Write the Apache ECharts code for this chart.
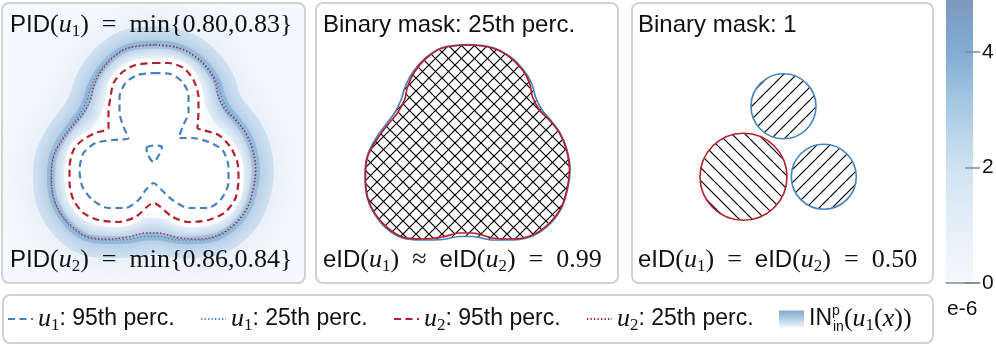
<!DOCTYPE html>
<html><head><meta charset="utf-8">
<script src="https://cdn.jsdelivr.net/npm/echarts@6/dist/echarts.min.js"></script>
<style>html,body{margin:0;padding:0;background:#fff}#c{width:996px;height:347px}</style>
</head><body><div id="c"></div>
<script>
const SANS = '"Liberation Sans", Arial, sans-serif';
const SERIF = '"Liberation Serif", "Times New Roman", serif';
const BLUE = '#4881bf', RED = '#b5202e', INK = '#111';

// ---- contour data (normalized shape coordinates) ----
const u2_p25 = [[0.02,0.98],[0.25,0.95],[0.42,0.86],[0.55,0.73],[0.62,0.60],[0.65,0.46],[0.72,0.33],[0.82,0.23],[0.92,0.10],[0.99,-0.07],[1.02,-0.27],[1.00,-0.44],[0.94,-0.64],[0.82,-0.80],[0.65,-0.92],[0.45,-0.96],[0.25,-0.95],[0.05,-0.90],[-0.08,-0.90],[-0.25,-0.94],[-0.45,-0.96],[-0.65,-0.94],[-0.81,-0.84],[-0.93,-0.70],[-1.00,-0.54],[-1.02,-0.34],[-1.00,-0.14],[-0.91,0.03],[-0.80,0.18],[-0.70,0.30],[-0.63,0.43],[-0.60,0.56],[-0.53,0.71],[-0.41,0.85],[-0.25,0.95]];
const u1_p25 = [[0.02,0.985],[0.25,0.955],[0.43,0.86],[0.56,0.73],[0.64,0.60],[0.68,0.46],[0.745,0.33],[0.83,0.23],[0.925,0.10],[0.995,-0.07],[1.025,-0.27],[1.005,-0.44],[0.945,-0.64],[0.825,-0.81],[0.65,-0.93],[0.45,-0.97],[0.25,-0.97],[0.05,-0.935],[-0.08,-0.935],[-0.25,-0.965],[-0.45,-0.97],[-0.65,-0.95],[-0.815,-0.85],[-0.935,-0.70],[-1.005,-0.54],[-1.025,-0.34],[-1.005,-0.14],[-0.925,0.03],[-0.82,0.18],[-0.73,0.30],[-0.665,0.43],[-0.625,0.56],[-0.545,0.71],[-0.415,0.855],[-0.25,0.955]];
const u2_p95 = [[0.00,0.80],[0.15,0.80],[0.30,0.75],[0.40,0.63],[0.45,0.46],[0.45,0.31],[0.44,0.15],[0.49,0.13],[0.65,0.08],[0.77,-0.04],[0.84,-0.20],[0.85,-0.37],[0.82,-0.55],[0.72,-0.69],[0.55,-0.77],[0.35,-0.79],[0.19,-0.74],[0.00,-0.60],[-0.18,-0.74],[-0.35,-0.79],[-0.55,-0.77],[-0.70,-0.70],[-0.80,-0.57],[-0.84,-0.40],[-0.84,-0.24],[-0.80,-0.07],[-0.71,0.03],[-0.58,0.10],[-0.45,0.15],[-0.45,0.31],[-0.43,0.46],[-0.40,0.60],[-0.31,0.71],[-0.18,0.78]];
const u1_p95 = [[0.00,0.70],[0.17,0.69],[0.29,0.61],[0.35,0.48],[0.35,0.31],[0.29,0.16],[0.25,0.05],[0.39,0.05],[0.55,0.01],[0.69,-0.07],[0.75,-0.24],[0.75,-0.40],[0.67,-0.57],[0.54,-0.65],[0.35,-0.65],[0.19,-0.57],[0.07,-0.46],[0.00,-0.40],[-0.07,-0.46],[-0.15,-0.57],[-0.28,-0.65],[-0.45,-0.65],[-0.61,-0.57],[-0.71,-0.44],[-0.74,-0.27],[-0.70,-0.10],[-0.58,0.00],[-0.41,0.03],[-0.25,0.05],[-0.30,0.16],[-0.34,0.31],[-0.34,0.46],[-0.28,0.60],[-0.16,0.68]];
const u1_p95_inner = [[-0.07,-0.04],[0.00,-0.025],[0.085,-0.04],[0.06,-0.11],[0.00,-0.19],[-0.06,-0.11]];

// binary masks at level 1: circles [cx, cy, r]
const u1_mask1 = [[0.01,0.367,0.325],[0.413,-0.337,0.325]];
const u2_mask1 = [[-0.39,-0.337,0.435]];

// scores
const pidU1 = [0.80, 0.83];
const pidU2 = [0.86, 0.84];
const eid25 = 0.99;
const eid1 = 0.50;

// colorbar
const cbarRange = [0, 4.9];
const cbarTicks = [0, 2, 4];
const cbarUnit = 'e-6';

// legend
const legendNames = ['u1 95', 'u1 25', 'u2 95', 'u2 25', 'IN'];
const legendLabels = {
  'u1 95': '{i|u}{b|1}: 95th perc.',
  'u1 25': '{i|u}{b|1}: 25th perc.',
  'u2 95': '{i|u}{b|2}: 95th perc.',
  'u2 25': '{i|u}{b|2}: 25th perc.',
  'IN': 'IN{sp|p}{sb|in}{m|(}{i|u}{b|1}{m|(}{i|x}{m|))}'
};

const CMAP = [
  {offset:0, color:'#7d98ba'}, {offset:0.1, color:'#7ea4cc'}, {offset:0.2, color:'#86aed4'},
  {offset:0.35, color:'#a2c6e2'}, {offset:0.5, color:'#bfd8ec'}, {offset:0.62, color:'#d4e4f2'},
  {offset:0.8, color:'#e6eff8'}, {offset:1, color:'#f5f9fd'}
];

const f2 = v => v.toFixed(2);
const EQ = '\u2002=\u2002', APPROX = '\u2002\u2248\u2002';
const T = {
  pidTop: `{s|PID}({i|u}{b|1})${EQ}min{${f2(pidU1[0])},${f2(pidU1[1])}}`,
  pidBot: `{s|PID}({i|u}{b|2})${EQ}min{${f2(pidU2[0])},${f2(pidU2[1])}}`,
  mask25: '{s|Binary mask: 25th perc.}',
  eid25: `{s|eID}({i|u}{b|1})${APPROX}{s|eID}({i|u}{b|2})${EQ}${f2(eid25)}`,
  mask1: '{s|Binary mask: 1}',
  eid1: `{s|eID}({i|u}{b|1})${EQ}{s|eID}({i|u}{b|2})${EQ}${f2(eid1)}`
};

function hatch(dir){
  const s = 13, c = document.createElement('canvas');
  c.width = s; c.height = s;
  const g = c.getContext('2d');
  g.strokeStyle = '#000'; g.lineWidth = 1.2; g.beginPath();
  if (dir === '/') {
    g.moveTo(-1, s+1); g.lineTo(s+1, -1);
    g.moveTo(-2, 2); g.lineTo(2, -2);
    g.moveTo(s-2, s+2); g.lineTo(s+2, s-2);
  } else {
    g.moveTo(-1, -1); g.lineTo(s+1, s+1);
    g.moveTo(s-2, -2); g.lineTo(s+2, 2);
    g.moveTo(-2, s-2); g.lineTo(2, s+2);
  }
  g.stroke();
  return c;
}
const HATCH = {'/': hatch('/'), '\\': hatch('\\')};

const richMath = {
  s: {fontFamily: SANS, fontSize: 24, lineHeight: 30, color: INK},
  i: {fontFamily: SERIF, fontStyle: 'italic', fontSize: 26, lineHeight: 30, color: INK},
  b: {fontFamily: SERIF, fontSize: 17, lineHeight: 14, verticalAlign: 'bottom', color: INK}
};
function title(text, left, top){
  return {text, left, top, padding: 0,
    textStyle: {fontFamily: SERIF, fontSize: 26, lineHeight: 30, color: INK, fontWeight: 'normal', rich: richMath}};
}

function lineSeries(name, gi, pts, color, width, dash, smooth){
  return {type:'line', name, xAxisIndex:gi, yAxisIndex:gi, data: pts.concat([pts[0]]),
    symbol:'none', smooth, silent:true, animation:false,
    lineStyle:{color, width, type: dash, cap:'butt'}, itemStyle:{color}};
}
function hatchSeries(name, gi, pts, dir){
  return {type:'custom', name, xAxisIndex:gi, yAxisIndex:gi, clip:true, data:[[0,0]], silent:true,
    renderItem:(params, api) => ({type:'polygon',
      shape:{points: pts.map(p => api.coord(p)), smooth:0.35},
      style:{fill:{image: HATCH[dir], repeat:'repeat'}, stroke:null}})};
}
function circleSeries(name, gi, circles, dir, color){
  return {type:'custom', name, xAxisIndex:gi, yAxisIndex:gi, clip:true, data: circles, silent:true,
    renderItem:(params, api) => {
      const c = api.coord([api.value(0), api.value(1)]);
      const r = api.size([api.value(2), 0])[0];
      return {type:'circle', shape:{cx:c[0], cy:c[1], r},
        style:{fill:{image: HATCH[dir], repeat:'repeat'}, stroke: color, lineWidth: 1.6}};
    }};
}

const DASH = [7, 4.5], DOT = [1.3, 2.2];
const G = {outerBoundsMode:'none', containLabel:false};
const grids = [
  Object.assign({left:3, top:4, width:301, height:278}, G),
  Object.assign({left:317, top:4, width:301, height:278}, G),
  Object.assign({left:633, top:4, width:299, height:278}, G),
  Object.assign({left:946, top:0, width:27, height:283}, G),   // colorbar
  Object.assign({left:965, top:0, width:15, height:283}, G)    // colorbar tick strip
];
const xAxes = [0,1,2].map(i => ({gridIndex:i, type:'value', min: i===2?-1.495:-1.505, max: i===2?1.495:1.505, show:false}));
const yAxes = [0,1,2].map(i => ({gridIndex:i, type:'value', min:-1.39, max:1.39, show:false}));
const cbarAxisLine = {show:true, lineStyle:{color:'#8a8a8a', width:1.5}};
xAxes.push({gridIndex:3, type:'value', min:0, max:1, position:'bottom', z:10,
  axisLine:cbarAxisLine, axisTick:{show:false}, axisLabel:{show:false}, splitLine:{show:false}});
yAxes.push({gridIndex:3, type:'value', min:cbarRange[0], max:cbarRange[1], show:false});
xAxes.push({gridIndex:4, type:'value', min:0, max:1, position:'bottom', z:10,
  axisLine:cbarAxisLine, axisTick:{show:false}, axisLabel:{show:false}, splitLine:{show:false}});
yAxes.push({gridIndex:4, type:'value', position:'right', min:cbarRange[0], max:cbarRange[1], z:10,
  axisLine:{show:false},
  axisTick:{show:false, customValues: cbarTicks},
  axisLabel:{customValues: cbarTicks, margin:2, fontSize:21, color:INK, fontFamily:SANS},
  splitLine:{show:true, lineStyle:{color:'#8a8a8a', width:1.5}}});

const INgrad = {type:'linear', x:0, y:0, x2:0, y2:1, colorStops:[{offset:0, color:'#7fa7d1'},{offset:1, color:'#f2f7fc'}]};

const series = [
  // panel 1: IN field halo
  {type:'custom', name:'IN', xAxisIndex:0, yAxisIndex:0, clip:true, data:[[0,0]], silent:true,
    itemStyle:{color:'#86acd2'},
    renderItem:(params, api) => {
      const outer = u1_p25.map(p => api.coord(p));
      const inner = u2_p95.map(p => api.coord(p));
      return {type:'group', children:[
        {type:'polygon', shape:{points:outer, smooth:0.35}, style:{fill:'#fdfeff', stroke:null}},
        {type:'polygon', shape:{points:outer, smooth:0.35}, style:{fill:'none', stroke:'rgba(170,201,230,0.42)', lineWidth:36, shadowBlur:36, shadowColor:'rgba(170,201,230,0.7)'}},
        {type:'polygon', shape:{points:outer, smooth:0.35}, style:{fill:'none', stroke:'#93b7d9', lineWidth:8, shadowBlur:14, shadowColor:'#93b7d9'}},
        {type:'polygon', shape:{points:inner, smooth:0.3}, style:{fill:'#ffffff', stroke:'#ffffff', lineWidth:10, shadowBlur:18, shadowColor:'#ffffff'}}
      ]};
    }},
  lineSeries('u1 25', 0, u1_p25, BLUE, 1.4, DOT, 0.35),
  lineSeries('u2 25', 0, u2_p25, RED, 1.4, DOT, 0.35),
  lineSeries('u1 95', 0, u1_p95, BLUE, 2.2, DASH, 0.25),
  lineSeries('u1 95', 0, u1_p95_inner, BLUE, 2.2, DASH, 0.3),
  lineSeries('u2 95', 0, u2_p95, RED, 2.2, DASH, 0.25),
  // panel 2: binary masks at 25th percentile
  hatchSeries('mask u1 25', 1, u1_p25, '/'),
  hatchSeries('mask u2 25', 1, u2_p25, '\\'),
  lineSeries('mask line u1 25', 1, u1_p25, BLUE, 1.7, 'solid', 0.35),
  lineSeries('mask line u2 25', 1, u2_p25, RED, 1.7, 'solid', 0.35),
  // panel 3: binary masks at level 1
  circleSeries('mask u2 1', 2, u2_mask1, '\\', RED),
  circleSeries('mask u1 1', 2, u1_mask1, '/', BLUE),
  // colorbar
  {type:'custom', name:'colorbar', xAxisIndex:3, yAxisIndex:3, data:[[0, cbarRange[0], 1, cbarRange[1]]], silent:true, z:1,
    renderItem:(params, api) => {
      const p0 = api.coord([api.value(0), api.value(3)]);
      const p1 = api.coord([api.value(2), api.value(1)]);
      return {type:'rect', shape:{x:p0[0], y:p0[1], width:p1[0]-p0[0], height:p1[1]-p0[1]},
        style:{fill:{type:'linear', x:0, y:0, x2:0, y2:1, colorStops:CMAP}}};
    }}
];

const frame = (x, y, w, h) => ({type:'rect', z:100, silent:true, shape:{x, y, width:w, height:h, r:7},
  style:{fill:'none', stroke:'#d2d2d2', lineWidth:2}});

const option = {
  animation:false,
  textStyle:{fontFamily:SANS},
  grid: grids, xAxis: xAxes, yAxis: yAxes,
  title: [
    title(T.pidTop, 10, 10), title(T.pidBot, 10, 245),
    title(T.mask25, 323, 10), title(T.eid25, 323, 245),
    title(T.mask1, 638, 10), title(T.eid1, 638, 245),
    {text: cbarUnit, left: 947, top: 299, padding: 0,
      textStyle:{fontFamily:SANS, fontSize:21, fontWeight:'normal', color:INK}}
  ],
  legend: {
    left:7, top:304, padding:0, itemWidth:25, itemHeight:17, itemGap:17, selectedMode:false,
    data: legendNames.map(n => n === 'IN'
      ? {name:n, icon:'rect', itemStyle:{color:INgrad, opacity:1, borderWidth:0}}
      : {name:n, itemStyle:{opacity:0}}),
    formatter: n => legendLabels[n],
    textStyle:{width:145, fontFamily:SANS, fontSize:23, lineHeight:30, color:INK, rich:{
      i:{fontFamily:SERIF, fontStyle:'italic', fontSize:26, lineHeight:30, color:INK},
      b:{fontFamily:SERIF, fontSize:17, lineHeight:14, verticalAlign:'bottom', color:INK},
      m:{fontFamily:SERIF, fontSize:26, lineHeight:30, color:INK},
      sp:{fontFamily:SANS, fontSize:14, lineHeight:14, verticalAlign:'top', width:1, color:INK},
      sb:{fontFamily:SANS, fontSize:14, lineHeight:18, verticalAlign:'bottom', color:INK}
    }}
  },
  graphic: [
    {type:'rect', z:-10, silent:true, shape:{x:2, y:3, width:303, height:280, r:7}, style:{fill:'#f5f8fc'}},
    frame(2, 3, 303, 280), frame(316, 3, 302, 280), frame(632, 3, 301, 280), frame(3, 295, 930, 48)
  ],
  series
};
const chart = echarts.init(document.getElementById('c'), null, {renderer:'canvas'});
chart.setOption(option);
</script></body></html>
